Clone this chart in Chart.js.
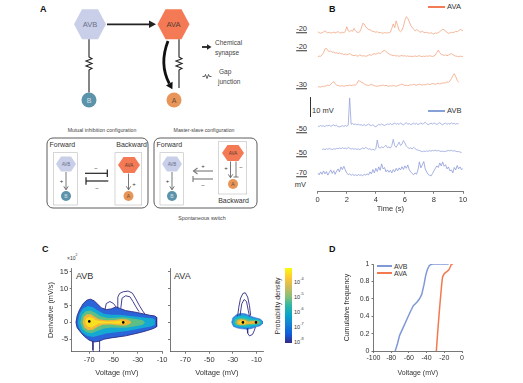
<!DOCTYPE html>
<html>
<head>
<meta charset="utf-8">
<script src="https://cdn.jsdelivr.net/npm/chart.js@4.4.0/dist/chart.umd.min.js"></script>
<style>
body{margin:0;width:523px;height:383px;overflow:hidden;background:#fff;position:relative;
  font-family:"Liberation Sans",Arial,sans-serif;color:#333}
canvas{position:absolute}
svg{position:absolute;left:0;top:0}
.t{position:absolute;white-space:nowrap;line-height:1;color:#333}
.c{transform:translate(-50%,-50%)}
.r{transform:translate(-100%,-50%)}
.l{transform:translate(0,-50%)}
.u{text-decoration:underline;text-decoration-color:#333}
.lg{position:absolute;height:2px}
sup{font-size:70%;vertical-align:top;position:relative;top:-2px}
</style>
</head>
<body>

<!-- panel A: circuit diagram -->
<svg width="523" height="383" font-family="Liberation Sans, Arial, sans-serif">
  <text x="40" y="12" font-size="9" font-weight="bold" fill="#111">A</text>
  <polygon points="74,24.3 82,9.3 98,9.3 106,24.3 98,39.3 82,39.3" fill="#c9cfe8"/>
  <text x="90" y="27" font-size="7.5" text-anchor="middle" fill="#6a7088">AVB</text>
  <polygon points="157.5,24.3 165.5,9.3 181.5,9.3 189.5,24.3 181.5,39.3 165.5,39.3" fill="#f47a55"/>
  <text x="173.5" y="27" font-size="7.5" text-anchor="middle" fill="#5a3a30">AVA</text>
  <line x1="107" y1="24.3" x2="150" y2="24.3" stroke="#222" stroke-width="1.8"/>
  <polygon points="149,20.5 156,24.3 149,28" fill="#222"/>
  <path d="M89,39.3 V57 l3,1.7 l-6,2.4 l6,2.4 l-6,2.4 l6,2.4 l-3,1.7 V92.5" fill="none" stroke="#222" stroke-width="1.1"/>
  <circle cx="89" cy="100" r="7.5" fill="#5b93ab"/>
  <text x="89" y="102.6" font-size="7" text-anchor="middle" fill="#d8e0ea">B</text>
  <path d="M179,39.3 V57 l3,1.7 l-6,2.4 l6,2.4 l-6,2.4 l6,2.4 l-3,1.7 V88" fill="none" stroke="#222" stroke-width="1.1"/>
  <circle cx="174" cy="100" r="7.5" fill="#e8955a"/>
  <text x="174" y="102.6" font-size="7" text-anchor="middle" fill="#6a4a30">A</text>
  <path d="M168,41 Q159,64 169.3,83.6" fill="none" stroke="#111" stroke-width="2.8"/>
  <polygon points="166,85.4 172.4,89.2 172.6,81.8" fill="#111"/>
  <line x1="202" y1="47" x2="207.5" y2="47" stroke="#222" stroke-width="1.8"/>
  <polygon points="207,44.3 211.5,47 207,49.7" fill="#222"/>
  <text x="215" y="44.5" font-size="6.5" fill="#444">Chemical</text>
  <text x="215" y="54.5" font-size="6.5" fill="#444">synapse</text>
  <path d="M202.5,76.5 h2 l1,-2 l1.5,4 l1.5,-4 l1,2 h2" fill="none" stroke="#333" stroke-width="0.8"/>
  <text x="219" y="73.5" font-size="6.5" fill="#444">Gap</text>
  <text x="218" y="83.5" font-size="6.5" fill="#444">junction</text>

  <text x="102" y="132" font-size="5.2" text-anchor="middle" fill="#444">Mutual inhibition configuration</text>
  <text x="204" y="132" font-size="5.2" text-anchor="middle" fill="#444">Master-slave configuration</text>
  <rect x="47" y="138" width="101" height="70" rx="6" fill="none" stroke="#333" stroke-width="0.8"/>
  <rect x="154" y="138" width="103" height="70" rx="6" fill="none" stroke="#333" stroke-width="0.8"/>
  <text x="49.5" y="146.5" font-size="7" fill="#333">Forward</text>
  <text x="147" y="146.5" font-size="7" text-anchor="end" fill="#333">Backward</text>
  <rect x="53.3" y="152.7" width="24" height="52.3" fill="none" stroke="#bbb" stroke-width="0.6"/>
  <rect x="115" y="152.7" width="26.7" height="52.3" fill="none" stroke="#bbb" stroke-width="0.6"/>
  <polygon points="56,164 61,156.5 71,156.5 76,164 71,171.5 61,171.5" fill="#c9cfe8"/>
  <text x="66" y="165.6" font-size="4.5" text-anchor="middle" fill="#6a7088">AVB</text>
  <line x1="66" y1="172" x2="66" y2="189.5" stroke="#555" stroke-width="0.8"/>
  <polyline points="63.8,186.3 66,189.8 68.2,186.3" fill="none" stroke="#555" stroke-width="0.8"/>
  <text x="61.5" y="183" font-size="6" text-anchor="middle" fill="#333">+</text>
  <circle cx="66" cy="196" r="5" fill="#5b93ab"/>
  <text x="66" y="197.8" font-size="5" text-anchor="middle" fill="#d8e0ea">B</text>
  <polygon points="118,165 123.5,157 134.5,157 140,165 134.5,173 123.5,173" fill="#f47a55"/>
  <text x="129" y="166.7" font-size="4.5" text-anchor="middle" fill="#5a3a30">AVA</text>
  <line x1="128.5" y1="173.5" x2="128.5" y2="189.5" stroke="#555" stroke-width="0.8"/>
  <polyline points="126.3,186.3 128.5,189.8 130.7,186.3" fill="none" stroke="#555" stroke-width="0.8"/>
  <text x="134" y="186" font-size="6" text-anchor="middle" fill="#333">+</text>
  <circle cx="128.5" cy="196" r="5" fill="#e8955a"/>
  <text x="128.5" y="197.8" font-size="5" text-anchor="middle" fill="#6a4a30">A</text>
  <line x1="85" y1="173.3" x2="107.3" y2="173.3" stroke="#222" stroke-width="1.2"/>
  <line x1="107.3" y1="169.5" x2="107.3" y2="177" stroke="#222" stroke-width="1.2"/>
  <text x="96" y="169.5" font-size="6" text-anchor="middle" fill="#333">−</text>
  <line x1="86" y1="181" x2="108.3" y2="181" stroke="#222" stroke-width="1.2"/>
  <line x1="86" y1="177.3" x2="86" y2="184.7" stroke="#222" stroke-width="1.2"/>
  <text x="97" y="190" font-size="6" text-anchor="middle" fill="#333">−</text>

  <text x="156.5" y="146.5" font-size="7" fill="#333">Forward</text>
  <rect x="160" y="152.7" width="23.3" height="52.3" fill="none" stroke="#bbb" stroke-width="0.6"/>
  <rect x="218.3" y="141.7" width="28.4" height="52.3" fill="none" stroke="#bbb" stroke-width="0.6"/>
  <polygon points="162,164 167,156.5 177,156.5 182,164 177,171.5 167,171.5" fill="#c9cfe8"/>
  <text x="172" y="165.6" font-size="4.5" text-anchor="middle" fill="#6a7088">AVB</text>
  <line x1="172" y1="172" x2="172" y2="189.5" stroke="#555" stroke-width="0.8"/>
  <polyline points="169.8,186.3 172,189.8 174.2,186.3" fill="none" stroke="#555" stroke-width="0.8"/>
  <text x="167.5" y="183" font-size="6" text-anchor="middle" fill="#333">+</text>
  <circle cx="172" cy="196" r="5" fill="#5b93ab"/>
  <text x="172" y="197.8" font-size="5" text-anchor="middle" fill="#d8e0ea">B</text>
  <polygon points="222,153 227.5,145 238.5,145 244,153 238.5,161 227.5,161" fill="#f47a55"/>
  <text x="233" y="154.7" font-size="4.5" text-anchor="middle" fill="#5a3a30">AVA</text>
  <line x1="230.5" y1="161.5" x2="230.5" y2="177.5" stroke="#555" stroke-width="0.8"/>
  <polyline points="228.3,174.3 230.5,177.8 232.7,174.3" fill="none" stroke="#555" stroke-width="0.8"/>
  <text x="226" y="170" font-size="6" text-anchor="middle" fill="#333">+</text>
  <line x1="236" y1="161.5" x2="236" y2="177" stroke="#555" stroke-width="0.8"/>
  <line x1="233.5" y1="177" x2="238.5" y2="177" stroke="#555" stroke-width="0.8"/>
  <text x="241" y="169" font-size="6" text-anchor="middle" fill="#333">−</text>
  <circle cx="233" cy="184" r="5" fill="#e8955a"/>
  <text x="233" y="185.8" font-size="5" text-anchor="middle" fill="#6a4a30">A</text>
  <text x="233.5" y="203.3" font-size="7" text-anchor="middle" fill="#333">Backward</text>
  <line x1="213" y1="171" x2="193.5" y2="171" stroke="#777" stroke-width="1.1"/>
  <polyline points="197.5,168 193.5,171 197.5,174" fill="none" stroke="#777" stroke-width="1.1"/>
  <text x="203" y="168" font-size="6" text-anchor="middle" fill="#333">+</text>
  <line x1="193" y1="179" x2="213" y2="179" stroke="#777" stroke-width="1.1"/>
  <line x1="193" y1="176" x2="193" y2="182" stroke="#777" stroke-width="1.1"/>
  <text x="203" y="187" font-size="6" text-anchor="middle" fill="#333">−</text>
  <text x="202" y="220" font-size="5.3" text-anchor="middle" fill="#444">Spontaneous switch</text>

  <text x="329" y="12" font-size="9" font-weight="bold" fill="#111">B</text>
  <text x="42" y="252" font-size="9" font-weight="bold" fill="#111">C</text>
  <text x="329" y="252" font-size="9" font-weight="bold" fill="#111">D</text>
</svg>

<!-- panel B annotations -->
<div class="lg" style="left:428px;top:6px;width:17px;background:#f27b55"></div>
<div class="t l" style="left:447px;top:7px;font-size:7.5px">AVA</div>
<div class="lg" style="left:428px;top:110px;width:17px;background:#86a1d6"></div>
<div class="t l" style="left:447px;top:111px;font-size:7.5px">AVB</div>
<div style="position:absolute;left:310px;top:97px;width:0.8px;height:20px;background:#333"></div>
<div class="t l" style="left:312px;top:110.5px;font-size:7.5px">10 mV</div>
<div class="t r u" style="left:307px;top:29px;font-size:7.5px">-20</div>
<div class="t r u" style="left:307px;top:47px;font-size:7.5px">-20</div>
<div class="t r u" style="left:307px;top:85px;font-size:7.5px">-30</div>
<div class="t r u" style="left:307px;top:129px;font-size:7.5px">-50</div>
<div class="t r u" style="left:307px;top:153px;font-size:7.5px">-50</div>
<div class="t r u" style="left:307px;top:173px;font-size:7.5px">-70</div>
<div class="t r" style="left:306px;top:185px;font-size:7.5px">mV</div>

<!-- panel C annotations -->
<div class="t l" style="left:67px;top:258px;font-size:5px">×10<sup>2</sup></div>
<div class="t l" style="left:76px;top:276px;font-size:9px">AVB</div>
<div class="t l" style="left:174px;top:276px;font-size:9px">AVA</div>
<div style="position:absolute;left:285px;top:268px;width:7px;height:75px;
  background:linear-gradient(to top,#352a87 0%,#0f5cdd 12%,#1481d6 25%,#06a4ca 37%,#2eb7a4 50%,#87bf77 62%,#d1bb59 75%,#fec832 87%,#f9fb0e 100%)"></div>
<div class="t l" style="left:294px;top:283px;font-size:5.5px">10<sup>-4</sup></div>
<div class="t l" style="left:294px;top:298px;font-size:5.5px">10<sup>-5</sup></div>
<div class="t l" style="left:294px;top:313px;font-size:5.5px">10<sup>-6</sup></div>
<div class="t l" style="left:294px;top:328px;font-size:5.5px">10<sup>-7</sup></div>
<div class="t l" style="left:294px;top:343px;font-size:5.5px">10<sup>-8</sup></div>
<div class="t c" style="left:277px;top:306px;font-size:7px;transform:translate(-50%,-50%) rotate(-90deg)">Probability density</div>

<!-- panel D legend -->
<div class="lg" style="left:377px;top:265px;width:15px;background:#8099d6"></div>
<div class="t l" style="left:394px;top:266px;font-size:7px">AVB</div>
<div class="lg" style="left:377px;top:271.5px;width:15px;background:#f37a4f"></div>
<div class="t l" style="left:394px;top:272.5px;font-size:7px">AVA</div>

<canvas id="traces" width="175" height="213" style="left:300px;top:0px"></canvas>
<canvas id="phaseAvb" width="124" height="115" style="left:45px;top:262px"></canvas>
<canvas id="phaseAva" width="106" height="115" style="left:166px;top:262px"></canvas>
<canvas id="cdf" width="135" height="121" style="left:340px;top:256px"></canvas>

<script>
// ---- panel B: membrane potential traces (mV above each trace's baseline) ----
var timeS = [0,0.1,0.2,0.3,0.4,0.5,0.6,0.7,0.8,0.9,
  1,1.1,1.2,1.3,1.4,1.5,1.6,1.7,1.8,1.9,
  2,2.1,2.2,2.3,2.4,2.5,2.6,2.7,2.8,2.9,
  3,3.1,3.2,3.3,3.4,3.5,3.6,3.7,3.8,3.9,
  4,4.1,4.2,4.3,4.4,4.5,4.6,4.7,4.8,4.9,
  5,5.1,5.2,5.3,5.4,5.5,5.6,5.7,5.8,5.9,
  6,6.1,6.2,6.3,6.4,6.5,6.6,6.7,6.8,6.9,
  7,7.1,7.2,7.3,7.4,7.5,7.6,7.7,7.8,7.9,
  8,8.1,8.2,8.3,8.4,8.5,8.6,8.7,8.8,8.9,
  9,9.1,9.2,9.3,9.4,9.5,9.6,9.7,9.8,9.9,10];
var timeTicks = [0, 2, 4, 6, 8, 10];

var avaTrace1 = [0.8,0.4,0.0,0.3,0.7,1.2,0.6,0.2,0.5,0.1,
  0.3,0.6,0.2,0.5,0.8,0.4,0.1,0.5,0.3,0.9,
  3.3,1.2,0.8,1.5,1.0,2.5,1.2,0.6,0.4,0.8,
  2.5,5.0,4.6,3.2,2.6,2.0,1.8,1.2,1.0,0.8,
  0.5,0.8,0.3,0.5,0.2,0.0,0.4,0.1,0.3,0.2,
  0.6,2.5,4.7,2.8,6.2,4.0,1.5,0.8,1.5,3.5,
  6.5,8.3,7.5,5.8,4.0,3.0,2.0,1.3,1.8,1.5,
  0.8,0.6,1.0,0.5,0.3,0.5,0.2,0.0,0.3,-0.2,
  -0.3,0.2,0.0,0.4,0.8,1.5,2.0,1.8,1.0,0.5,
  0.0,0.2,0.5,0.3,0.6,0.9,0.8,1.2,2.0,1.6,1.2];
var avaTrace2 = [0.0,0.3,0.2,0.8,2.0,3.8,4.2,3.0,2.6,2.8,
  2.2,2.4,1.8,2.0,1.6,1.9,1.4,1.5,1.0,1.3,
  0.9,1.2,1.6,1.0,0.7,0.5,0.8,0.3,0.4,0.9,
  0.6,0.3,0.5,0.2,0.4,0.8,1.0,0.7,1.3,1.5,
  1.2,1.6,1.9,1.5,2.2,2.8,3.3,2.5,2.0,1.4,
  1.0,0.8,0.5,0.7,0.3,0.5,0.2,0.4,0.6,0.3,
  0.5,0.2,0.4,0.1,0.3,0.0,0.2,0.4,0.1,0.3,
  0.5,0.2,0.0,0.3,0.1,0.4,0.2,0.5,0.3,0.1,
  0.4,0.8,2.2,3.3,2.0,1.2,1.0,0.6,0.9,0.5,
  0.8,1.2,1.6,1.0,0.6,0.3,0.2,0.0,0.3,0.1,0.2];
var avaTrace3 = [-0.3,0.0,-0.2,0.2,0.0,0.3,0.5,0.8,0.6,1.2,
  2.0,2.5,1.5,0.8,0.6,0.4,0.3,0.5,0.2,0.4,
  0.6,0.5,0.8,0.6,0.7,0.9,0.8,1.5,3.0,2.8,
  2.2,2.0,1.4,1.0,0.8,0.6,0.9,1.2,0.8,0.5,
  0.3,0.2,0.5,0.4,0.6,0.8,0.5,0.7,0.4,0.2,
  0.5,0.3,0.6,0.4,0.2,0.5,0.8,1.0,1.3,0.9,
  0.6,0.8,0.5,0.7,1.0,0.8,1.2,0.9,0.7,1.0,
  1.3,1.0,0.8,1.1,0.9,1.2,1.4,1.1,1.3,1.6,
  1.4,1.2,1.5,1.7,1.4,1.6,1.9,1.8,2.0,2.4,
  2.2,2.8,4.0,5.5,6.5,5.0,3.2,2.2,null,null,null];
var avbTrace1 = [0.0,-0.3,0.2,-0.2,0.1,-0.4,0.3,0.0,0.4,-0.2,
  0.2,0.5,0.0,0.3,-0.3,-0.5,-0.2,0.1,-0.3,0.2,
  -0.2,0.3,14.0,0.8,1.2,0.6,1.0,0.5,0.9,0.4,
  0.6,0.2,0.7,0.1,0.5,0.9,0.4,0.2,0.6,-0.1,
  -0.4,0.2,0.8,0.4,1.0,0.5,0.2,0.6,1.0,0.7,
  1.2,0.6,1.0,1.4,0.8,1.2,0.7,1.5,0.9,0.5,
  1.1,1.6,0.8,1.2,0.6,1.0,1.4,0.8,1.3,0.7,
  1.0,1.5,0.9,1.3,1.8,1.1,0.6,1.0,1.4,0.9,
  1.5,1.1,0.7,1.2,1.6,1.0,0.6,1.1,1.4,0.8,
  1.2,0.9,1.5,1.0,1.3,0.8,1.2,1.0,null,null,null];
var avbTrace2 = [null,null,null,0.5,0.8,0.4,0.9,0.6,1.0,0.7,
  0.5,0.9,0.6,1.1,0.8,1.3,0.9,1.4,1.0,1.2,
  0.8,1.5,1.1,0.7,1.0,0.6,0.9,0.5,0.8,0.4,
  0.9,1.3,0.8,1.6,1.1,0.6,0.9,0.3,0.7,0.2,
  0.8,5.2,1.5,1.2,1.8,1.4,2.0,2.6,1.4,1.8,
  1.2,2.5,5.6,2.4,1.6,2.8,4.2,2.5,3.2,5.0,
  3.8,2.2,1.5,1.0,1.3,0.8,1.6,1.0,0.4,0.2,
  0.0,-0.3,-0.6,-0.3,-0.5,-0.2,-0.4,-0.1,-0.3,0.0,
  -0.2,0.1,-0.2,0.0,-0.3,-0.5,-0.3,-0.6,-0.4,-0.2,
  0.0,-0.2,0.1,-0.3,-0.1,-0.4,-0.6,-0.5,-0.8,-1.0,null];
var avbTrace3 = [1.5,0.5,2.0,0.8,2.5,1.0,2.2,0.4,1.8,3.0,
  1.2,2.6,0.8,2.4,3.5,2.0,4.5,3.2,4.8,3.0,
  1.5,0.6,1.0,0.3,0.8,0.2,0.6,0.1,0.7,0.3,
  0.5,0.1,0.8,0.4,1.0,0.5,2.0,1.0,3.2,1.5,
  3.8,2.2,4.5,2.8,6.0,3.5,4.2,2.0,3.0,1.8,
  2.8,1.5,3.2,2.0,3.8,2.5,4.0,3.0,4.6,3.2,
  5.0,3.8,5.5,3.0,2.0,1.2,0.6,1.5,0.8,3.0,
  7.0,4.0,5.5,7.2,3.5,2.0,0.8,0.3,0.0,1.2,
  2.5,3.8,5.0,4.2,6.5,5.0,7.0,4.8,5.6,3.5,
  4.5,2.5,3.0,1.5,4.2,3.0,5.2,3.5,4.5,3.0,3.8];
// vertical slot of each trace in the stacked plot (mV from the bottom)
var traceSlot = [79.2, 67.5, 52.5, 32.9, 20.6, 7.9];

// ---- panel C: phase-plane density contours, [voltage mV, derivative x100 mV/s] ----
var phaseVoltageTicks = [-70, -50, -30, -10];
var phaseDerivTicks = [-5, 0, 5, 10, 15];
var avbOuter = [[-81,0],[-80,2],[-78,3.8],[-75,5.6],[-72,6.6],[-69,6.9],[-66,6.4],[-63,5.4],[-60,4.3],[-56,3.8],[-52,4.0],[-48,4.6],[-45,4.2],[-40,3.5],[-35,3.2],[-30,2.9],[-25,2.5],[-20,2.1],[-16,1.9],[-14.5,1.5],[-14.5,-1.3],[-17,-1.8],[-22,-2.4],[-28,-3],[-34,-3.5],[-40,-4.0],[-46,-4.3],[-52,-4.6],[-58,-5.0],[-62,-5.6],[-66,-5.8],[-70,-5.3],[-74,-4.2],[-77,-3.0],[-80,-1.6],[-81,0]];
var avbCyan = [[-79.5,0],[-78,2.6],[-75,4.2],[-71,4.9],[-67,4.5],[-63,3.5],[-58,2.6],[-52,2.3],[-45,2.3],[-38,2.0],[-30,1.7],[-24,1.4],[-18,1.2],[-16,0.8],[-16,-0.8],[-19,-1.2],[-25,-1.6],[-32,-2.1],[-40,-2.6],[-48,-2.9],[-56,-3.3],[-62,-3.9],[-67,-4.3],[-72,-4.0],[-76,-3.0],[-78.5,-1.6],[-79.5,0]];
var avbGreen = [[-77.5,0],[-76,2.1],[-73,3.3],[-69,3.5],[-65,2.9],[-61,1.9],[-55,1.3],[-48,1.4],[-42,1.5],[-36,1.2],[-30,0.9],[-26,0.6],[-24,0],[-26,-0.7],[-31,-1.1],[-38,-1.5],[-45,-1.6],[-52,-1.5],[-58,-1.8],[-63,-2.5],[-68,-3.2],[-72,-3.0],[-75.5,-2.0],[-77.5,0]];
var avbOrange = [[-75.5,0],[-74.5,1.6],[-72,2.4],[-68.5,2.4],[-65.5,1.7],[-62,0.9],[-56,0.6],[-49,0.7],[-44,1.0],[-39.5,0.9],[-36,0.4],[-35.5,0],[-36.5,-0.5],[-40,-0.9],[-45,-0.9],[-52,-0.6],[-59,-0.7],[-63,-1.3],[-67,-2.2],[-71,-2.3],[-74,-1.5],[-75.5,0]];
var avbYellow = [[-73.5,0],[-72.5,1.2],[-70,1.6],[-67,1.3],[-64.5,0.6],[-58,0.3],[-50,0.3],[-45,0.5],[-41,0.4],[-39,0],[-41,-0.4],[-46,-0.4],[-54,-0.25],[-62,-0.35],[-65,-0.9],[-68,-1.5],[-71.5,-1.2],[-73.5,0]];
var avbLoopHigh = [[-47,4.4],[-46.5,7.5],[-45,8.6],[-42,9.1],[-38,9.3],[-34.5,8.7],[-32,7.2],[-29,5.2],[-26,3.4],[-24,2.4]];
var avbLoopInner = [[-44,4.3],[-43,7.2],[-40,7.9],[-36.5,7.6],[-34,6.2],[-31.5,4.6],[-29,3.2]];
var avbLoopSmall = [[-57,3.9],[-56,5.6],[-53,6.2],[-50,5.6],[-48,4.6]];
var avbLoopLow = [[-67,-5.6],[-67,-8.2],[-66,-9.5],[-62,-9.5],[-61.5,-8],[-61.5,-5.4]];
var avbModes = [[-70,0.3],[-42,0]];

var avaOuter = [[-31,0],[-30,1.4],[-27,2.3],[-23,2.7],[-19,2.5],[-15,1.8],[-11,1.4],[-7,1.0],[-5,0.4],[-5,-0.4],[-7,-1.0],[-11,-1.4],[-14,-1.8],[-18,-2.0],[-22,-1.9],[-26,-1.7],[-29.5,-1.2],[-31,0]];
var avaCyan = [[-30,0],[-29,1.2],[-26,1.9],[-22,2.1],[-18,1.8],[-14,1.2],[-10,1.0],[-6.5,0.6],[-5.5,0],[-6.5,-0.6],[-10,-1.0],[-14,-1.3],[-18,-1.5],[-22,-1.4],[-26,-1.3],[-29,-0.9],[-30,0]];
var avaGreen = [[-28.5,0],[-27.5,0.9],[-24,1.3],[-20,1.2],[-16,0.8],[-12,0.7],[-8,0.5],[-6.5,0],[-8,-0.5],[-12,-0.7],[-16,-0.8],[-20,-1.0],[-24,-1.0],[-27.5,-0.7],[-28.5,0]];
var avaOrange = [[-27,0],[-26,0.7],[-23,0.9],[-19.5,0.7],[-17,0.3],[-13,0.4],[-10,0.4],[-8,0],[-10,-0.4],[-13,-0.4],[-17,-0.4],[-20,-0.7],[-23,-0.8],[-26,-0.6],[-27,0]];
var avaYellow = [[-25,0],[-24,0.4],[-21.5,0.5],[-19,0.3],[-19,-0.3],[-21.5,-0.5],[-24,-0.4],[-25,0]];
var avaYellow2 = [[-12.5,0],[-11,0.3],[-9.5,0],[-11,-0.3],[-12.5,0]];
var avaLoopUp = [[-26,1.8],[-25,4.5],[-23.5,7.2],[-21.5,8.6],[-19.5,8.8],[-17.5,7.5],[-16,5],[-15,2]];
var avaLoopInner = [[-24,2],[-22.5,5.5],[-20.5,6.8],[-18.5,6.2],[-17,3.5],[-16,1.8]];
var avaLoopDown = [[-18,-1.8],[-17.5,-3.2],[-16,-4.0],[-13.5,-3.6],[-12,-2.5],[-11,-1.4]];
var avaModes = [[-21.5,0],[-10.5,0]];

// ---- panel D: cumulative frequency of voltage ----
var cdfAvbVoltage = [-75.5,-73,-70.5,-66,-62,-58,-55,-51,-48,-45.5,-43,-41,-39,-37,-35,-33,-15];
var cdfAvbFraction = [0,0.08,0.18,0.28,0.37,0.46,0.52,0.56,0.6,0.65,0.76,0.87,0.94,0.98,0.995,1,1];
var cdfAvaVoltage = [-29,-27,-25,-23,-22,-20,-17.5,-15,-13.5,-12,-10];
var cdfAvaFraction = [0,0.28,0.53,0.76,0.85,0.89,0.91,0.93,0.96,1,1];
var cdfVoltageTicks = [-100, -80, -60, -40, -20, 0];
var cdfFractionTicks = [0, 0.2, 0.4, 0.6, 0.8, 1];

Chart.defaults.font.family = '"Liberation Sans", Arial, sans-serif';
Chart.defaults.color = '#333';

function fixWidth(w) { return function(s) { s.width = w; }; }
function fixHeight(h) { return function(s) { s.height = h; }; }
function setTicks(list) { return function(s) { s.ticks = list.map(function(v) { return {value: v}; }); }; }
function xy(list) { return list.map(function(p) { return {x: p[0], y: p[1]}; }); }
function xy2(xs, ys) { return xs.map(function(v, i) { return {x: v, y: ys[i]}; }); }
function plain(v) { return String(v); }

var baseOpts = {
    responsive: false,
    animation: false,
    events: [],
    plugins: {legend: {display: false}, tooltip: {enabled: false}},
    elements: {point: {radius: 0}, line: {tension: 0}}
};
function axisStyle(o) {
    o.border = {color: '#555', width: 0.8};
    o.grid = {drawOnChartArea: false, color: '#555', tickLength: 2, lineWidth: 0.8};
    return o;
}

// panel B
var traceSets = [avaTrace1, avaTrace2, avaTrace3, avbTrace1, avbTrace2, avbTrace3];
var traceColors = ['#f2a482', '#f2a482', '#f2a482', '#97a3dc', '#97a3dc', '#8d9ad8'];
new Chart(document.getElementById('traces'), {
    type: 'line',
    data: {
        labels: timeS,
        datasets: traceSets.map(function(tr, k) {
            return {
                data: tr.map(function(v) { return v === null ? null : v + traceSlot[k]; }),
                borderColor: traceColors[k],
                borderWidth: 0.8
            };
        })
    },
    options: Object.assign({}, baseOpts, {
        layout: {padding: {left: 17.7, right: 12, top: 2, bottom: 0}},
        scales: {
            x: axisStyle({
                type: 'linear', min: 0, max: 10,
                afterFit: fixHeight(21.3),
                afterBuildTicks: setTicks(timeTicks),
                ticks: {padding: 1.5, font: {size: 7.5}, maxRotation: 0, callback: plain},
                title: {display: true, text: 'Time (s)', font: {size: 7.5}, padding: 0}
            }),
            y: {display: false, min: 0, max: 94.85}
        }
    })
});

// panel C
function layer(pts, color, ord) {
    return {data: xy(pts), borderWidth: 0, backgroundColor: color, fill: 'shape', order: ord};
}
function outline(pts, ord) {
    return {data: xy(pts), borderColor: '#2f2a86', borderWidth: 0.9, fill: false, order: ord};
}
function modes(pts) {
    return {data: xy(pts), showLine: false, pointRadius: 1.3, backgroundColor: '#000', borderWidth: 0, order: 0};
}
function phaseChart(id, sets, xmin, xmax, wy, showY) {
    return new Chart(document.getElementById(id), {
        type: 'line',
        data: {datasets: sets},
        options: Object.assign({}, baseOpts, {
            layout: {padding: {left: 0, right: id === 'phaseAvb' ? 6.3 : 8.3, top: 6.5, bottom: 0}},
            scales: {
                x: axisStyle({
                    type: 'linear', min: xmin, max: xmax,
                    afterFit: fixHeight(25.3),
                    afterBuildTicks: setTicks(phaseVoltageTicks),
                    ticks: {padding: 1.5, font: {size: 7.5}, maxRotation: 0, callback: plain},
                    title: {display: true, text: 'Voltage (mV)', font: {size: 7.5}, padding: 0}
                }),
                y: axisStyle({
                    type: 'linear', min: -8.7, max: 16,
                    afterFit: fixWidth(wy),
                    afterBuildTicks: setTicks(phaseDerivTicks),
                    ticks: {display: showY, padding: 1.5, font: {size: 7.5}, callback: plain},
                    title: {display: showY, text: 'Derivative (mV/s)', font: {size: 7.3}, padding: {top: 2}}
                })
            }
        })
    });
}
phaseChart('phaseAvb', [
    modes(avbModes),
    outline(avbLoopHigh, 1), outline(avbLoopInner, 1), outline(avbLoopSmall, 1), outline(avbLoopLow, 1),
    layer(avbYellow, '#f8e020', 2),
    layer(avbOrange, '#f2b53a', 3),
    layer(avbGreen, '#5cbf86', 4),
    layer(avbCyan, '#14a9d2', 5),
    {data: xy(avbOuter), borderColor: '#2f2a86', borderWidth: 0.9, backgroundColor: '#2b64d8', fill: 'shape', order: 6}
], -84.5, -10, 26.7, true);
phaseChart('phaseAva', [
    modes(avaModes),
    outline(avaLoopUp, 1), outline(avaLoopInner, 1), outline(avaLoopDown, 1),
    layer(avaYellow, '#f8e020', 2), layer(avaYellow2, '#f8e020', 2),
    layer(avaOrange, '#f2b53a', 3),
    layer(avaGreen, '#5cbf86', 4),
    layer(avaCyan, '#14b6cf', 5),
    {data: xy(avaOuter), borderColor: '#3a6fd8', borderWidth: 0.6, backgroundColor: '#2b8ee0', fill: 'shape', order: 6}
], -83, -4, 3.3, false);

// panel D
new Chart(document.getElementById('cdf'), {
    type: 'line',
    data: {datasets: [
        {data: xy2(cdfAvbVoltage, cdfAvbFraction), borderColor: '#8099d6', borderWidth: 1.5},
        {data: xy2(cdfAvaVoltage, cdfAvaFraction), borderColor: '#f37a4f', borderWidth: 1.5}
    ]},
    options: Object.assign({}, baseOpts, {
        layout: {padding: {left: 2.8, right: 13, top: 8, bottom: 0}},
        scales: {
            x: axisStyle({
                type: 'linear', min: -100, max: 0,
                afterFit: fixHeight(26),
                afterBuildTicks: setTicks(cdfVoltageTicks),
                ticks: {padding: 1, font: {size: 7}, maxRotation: 0, callback: plain},
                title: {display: true, text: 'Voltage (mV)', font: {size: 7}, padding: 0}
            }),
            y: axisStyle({
                type: 'linear', min: 0, max: 1,
                afterFit: fixWidth(30.7),
                afterBuildTicks: setTicks(cdfFractionTicks),
                ticks: {padding: 2, font: {size: 7}, callback: plain},
                title: {display: true, text: 'Cumulative frequency', font: {size: 7}, padding: 0}
            })
        }
    })
});
</script>
</body>
</html>
